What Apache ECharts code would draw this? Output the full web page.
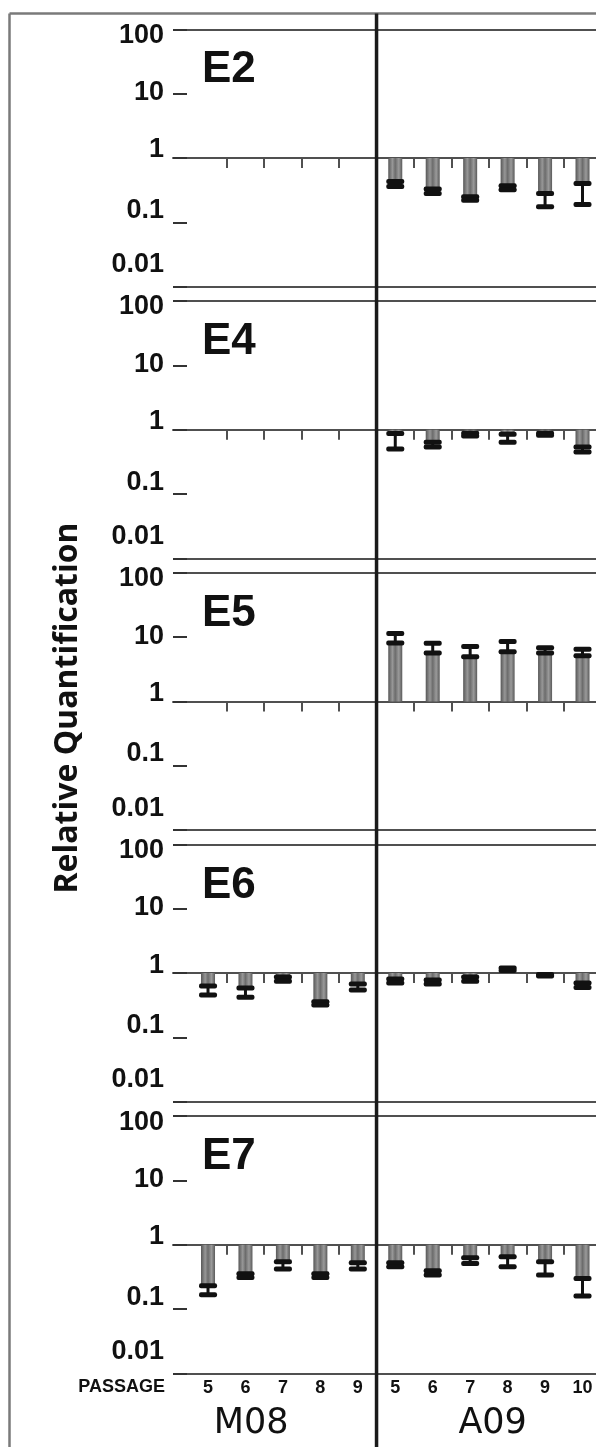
<!DOCTYPE html>
<html>
<head>
<meta charset="utf-8">
<script src="https://cdn.jsdelivr.net/npm/echarts@6/dist/echarts.min.js"></script>
<style>
 html, body { margin: 0; padding: 0; background: #fff; }
 #rq_chart { width: 596px; height: 1447px; }
</style>
</head>
<body>
<div id="rq_chart"></div>
<script>
// passages on the x axis (M08 then A09)
var passages = ['5', '6', '7', '8', '9', '5', '6', '7', '8', '9', '10'];
var cellLines = ['M08', 'A09'];
var genes = ['E2', 'E4', 'E5', 'E6', 'E7'];
var yTicks = ['0.01', '0.1', '1', '10', '100'];

// bar end (relative quantification) and far end of the error bar
var e2Val = [null, null, null, null, null, 0.43, 0.33, 0.25, 0.37, 0.28, 0.40];
var e2Err = [null, null, null, null, null, 0.36, 0.28, 0.22, 0.32, 0.175, 0.19];
var e4Val = [null, null, null, null, null, 0.87, 0.64, 0.88, 0.85, 0.88, 0.54];
var e4Err = [null, null, null, null, null, 0.50, 0.54, 0.80, 0.64, 0.82, 0.45];
var e5Val = [null, null, null, null, null, 8.1, 5.65, 4.95, 5.9, 5.65, 5.1];
var e5Err = [null, null, null, null, null, 11.4, 8.0, 7.1, 8.5, 6.8, 6.45];
var e6Val = [0.63, 0.585, 0.87, 0.36, 0.675, 0.81, 0.78, 0.87, 1.1, 0.95, 0.70];
var e6Err = [0.455, 0.42, 0.75, 0.32, 0.545, 0.70, 0.675, 0.75, 1.2, 0.9, 0.6];
var e7Val = [0.23, 0.355, 0.545, 0.355, 0.525, 0.525, 0.395, 0.63, 0.65, 0.545, 0.30];
var e7Err = [0.167, 0.31, 0.42, 0.31, 0.42, 0.455, 0.34, 0.51, 0.455, 0.34, 0.16];

var geneVals = [e2Val, e4Val, e5Val, e6Val, e7Val];
var geneErrs = [e2Err, e4Err, e5Err, e6Err, e7Err];

(function () {
 var chartRq = echarts.init(document.getElementById('rq_chart'));

 // layout
 var panelTop = 29.3, panelStep = 271.7, panelH = 257.4;
 var plotLeft = 173;
 var xMin = -0.935, xMax = 10.36;
 var lineGray = '#505050';
 var labelShift = [-22, -12, -8, -1, 6];   // label offset for 0.01 .. 100

 var rich = {};
 labelShift.forEach(function (d, k) {
     rich['s' + k] = {
         fontSize: 27, fontWeight: 'bold', fontFamily: 'Liberation Sans, Arial, sans-serif', color: '#111',
         padding: d > 0 ? [2 * d, 0, 0, 0] : [0, 0, -2 * d, 0]
     };
 });

 var barColor = {
     type: 'linear', x: 0, y: 0, x2: 1, y2: 0,
     colorStops: [
         { offset: 0, color: '#575757' },
         { offset: 0.3, color: '#979797' },
         { offset: 0.5, color: '#6c6c6c' },
         { offset: 0.75, color: '#9a9a9a' },
         { offset: 1, color: '#5a5a5a' }
     ]
 };

 function errorBar(params, api) {
     var p1 = api.coord([api.value(0), api.value(1)]);
     var p2 = api.coord([api.value(0), api.value(2)]);
     var w = 18;
     return {
         type: 'group',
         children: [
             { type: 'line', shape: { x1: p1[0], y1: p1[1], x2: p2[0], y2: p2[1] }, style: { stroke: '#111', lineWidth: 3 } },
             { type: 'rect', shape: { x: p1[0] - w / 2, y: p1[1] - 2.5, width: w, height: 5, r: 2 }, style: { fill: '#111' } },
             { type: 'rect', shape: { x: p2[0] - w / 2, y: p2[1] - 2.5, width: w, height: 5, r: 2 }, style: { fill: '#111' } }
         ]
     };
 }

 var grid = [], xAxis = [], yAxis = [], series = [], title = [];
 var gapTicks = [0.5, 1.5, 2.5, 3.5, 5.5, 6.5, 7.5, 8.5, 9.5];

 genes.forEach(function (gene, i) {
     var top = panelTop + panelStep * i;
     grid.push({ left: plotLeft, right: 0, top: top, height: panelH });
     xAxis.push({
         type: 'value', gridIndex: i, min: xMin, max: xMax,
         position: 'top', offset: -panelH / 2,
         axisLine: { show: true, onZero: false, lineStyle: { color: lineGray, width: 2 } },
         axisTick: { show: true, inside: true, length: 10, customValues: gapTicks, lineStyle: { color: lineGray, width: 2 } },
         axisLabel: { show: false },
         splitLine: { show: false }
     });
     yAxis.push({
         type: 'log', logBase: 10, gridIndex: i, min: 0.01, max: 100,
         axisLine: { show: false, onZero: false },
         axisTick: { show: true, inside: true, length: 14, lineStyle: { color: '#333', width: 2 } },
         splitLine: { show: true, lineStyle: { color: [lineGray, 'rgba(0,0,0,0)'], width: 2 } },
         axisLabel: {
             margin: 9,
             formatter: function (v) {
                 var k = Math.round(Math.log10(v)) + 2;
                 return '{s' + k + '|' + yTicks[k] + '}';
             },
             rich: rich
         }
     });

     var bars = [], errs = [];
     geneVals[i].forEach(function (v, x) {
         if (v == null) return;
         bars.push([x, v]);
         errs.push([x, v, geneErrs[i][x]]);
     });
     series.push({
         name: gene, type: 'bar', xAxisIndex: i, yAxisIndex: i,
         barWidth: 14, itemStyle: { color: barColor }, data: bars, silent: true
     });
     series.push({
         name: gene + ' error', type: 'custom', xAxisIndex: i, yAxisIndex: i,
         renderItem: errorBar, data: errs, z: 5, silent: true
     });

     title.push({
         text: gene, left: 197, top: top + 14,
         textStyle: { fontSize: 44, fontWeight: 'bold', fontFamily: 'Liberation Sans, Arial, sans-serif', color: '#111' }
     });
 });

 // passage labels under the last panel
 xAxis.push({
     type: 'value', gridIndex: genes.length - 1, min: xMin, max: xMax, position: 'bottom',
     axisLine: { show: false, onZero: false }, axisTick: { show: false }, splitLine: { show: false },
     axisLabel: {
         show: true, margin: 6,
         customValues: passages.map(function (p, k) { return k; }),
         formatter: function (v) { return passages[Math.round(v)]; },
         fontSize: 18, fontWeight: 'bold', fontFamily: 'Liberation Sans Narrow, Arial Narrow, sans-serif', color: '#111'
     }
 });

 option = {
     animation: false,
     backgroundColor: '#fff',
     title: title,
     grid: grid,
     xAxis: xAxis,
     yAxis: yAxis,
     series: series
 };
 chartRq.setOption(option);

 // frame, group divider and free texts
 var divX = chartRq.convertToPixel({ xAxisIndex: 0 }, 4.5);
 var m08X = chartRq.convertToPixel({ xAxisIndex: 0 }, 1.15);
 var a09X = chartRq.convertToPixel({ xAxisIndex: 0 }, 7.6);
 var lastBottom = panelTop + panelStep * (genes.length - 1) + panelH;
 chartRq.setOption({
     graphic: [
         { type: 'line', shape: { x1: 9.5, y1: 13.5, x2: 9.5, y2: 1447 }, style: { stroke: '#7a7a7a', lineWidth: 2.5 } },
         { type: 'line', shape: { x1: 9.5, y1: 13.5, x2: 596, y2: 13.5 }, style: { stroke: '#7a7a7a', lineWidth: 2.5 } },
         { type: 'line', z: 10, shape: { x1: divX, y1: 13.5, x2: divX, y2: 1447 }, style: { stroke: '#1a1a1a', lineWidth: 3.5 } },
         {
             type: 'text', x: 68, y: 708, rotation: Math.PI / 2,
             style: { text: 'Relative Quantification', fill: '#111', font: 'bold 32px "Open Sans", sans-serif', textAlign: 'center', textVerticalAlign: 'middle' }
         },
         {
             type: 'text', x: 165, y: lastBottom + 14,
             style: { text: 'PASSAGE', fill: '#111', font: 'bold 18px "Liberation Sans Narrow", "Arial Narrow", sans-serif', textAlign: 'right', textVerticalAlign: 'middle' }
         },
         {
             type: 'text', x: m08X, y: lastBottom + 50,
             style: { text: cellLines[0], fill: '#111', font: '35px "DejaVu Sans", sans-serif', textAlign: 'center', textVerticalAlign: 'middle' }
         },
         {
             type: 'text', x: a09X, y: lastBottom + 50,
             style: { text: cellLines[1], fill: '#111', font: '35px "DejaVu Sans", sans-serif', textAlign: 'center', textVerticalAlign: 'middle' }
         }
     ]
 });

 window.addEventListener('resize', function () {
     if (chartRq != null && chartRq != undefined) {
         chartRq.resize();
     }
 });
})();
</script>
</body>
</html>
